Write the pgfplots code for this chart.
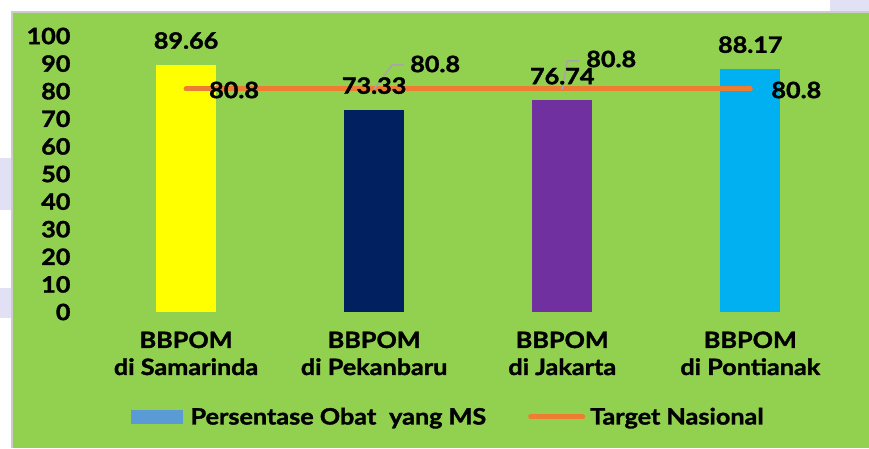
\documentclass[border=0pt]{standalone}
\usepackage{pgfplots}
\pgfplotsset{compat=1.18}
\usepackage{fontspec}
\setmainfont{Lato}[FakeStretch=1.12, BoldFeatures={FakeBold=1.5}]
\definecolor{bg}{HTML}{92D050}
\definecolor{c1}{HTML}{FFFF00}
\definecolor{c2}{HTML}{002060}
\definecolor{c3}{HTML}{7030A0}
\definecolor{c4}{HTML}{00B0F0}
\definecolor{lineor}{HTML}{ED7D31}
\definecolor{legblue}{HTML}{5B9BD5}
\definecolor{leader}{HTML}{A6A6A6}
\definecolor{lav}{HTML}{E2E0F4}
\newcommand{\lab}{\fontsize{22.5}{27}\selectfont\bfseries}
\begin{document}
\begin{tikzpicture}[x=1pt,y=1pt]
\useasboundingbox (0,0) rectangle (869,448);
\fill[white] (0,0) rectangle (869,448);
\fill[lav] (0,290) rectangle (12,238);
\fill[lav] (0,160) rectangle (12,130);
\fill[lav] (830,448) rectangle (869,436);
\fill[bg] (12,0) rectangle (869,436);
\draw[black!20, line width=1.5pt] (12,0) -- (12,436) -- (869,436);
\begin{axis}[
  at={(80pt,136pt)}, anchor=south west,
  scale only axis, width=770pt, height=276pt,
  xmin=-0.564, xmax=3.53, ymin=0, ymax=100,
  axis line style={draw=none},
  major tick length=0pt,
  ytick={0,10,...,100},
  xtick={0,1,2,3},
  xticklabels={{BBPOM\\di Samarinda},{BBPOM\\di Pekanbaru},{BBPOM\\di Jakarta},{BBPOM\\di Pontianak}},
  xticklabel style={align=center, yshift=-16pt},
  yticklabel style={xshift=-6pt},
  tick label style={font=\lab},
  /pgf/number format/assume math mode=true,
  clip=false,
  legend columns=2,
  legend style={draw=none, fill=none, at={(0.478,-0.380)}, anchor=center, font=\lab,
    /tikz/every even column/.append style={column sep=40pt}},
]
\addplot[ybar, bar width=60pt, bar shift=0pt, fill=c1, draw=none, forget plot] coordinates {(0,89.66)};
\addplot[ybar, bar width=60pt, bar shift=0pt, fill=c2, draw=none, forget plot] coordinates {(1,73.33)};
\addplot[ybar, bar width=60pt, bar shift=0pt, fill=c3, draw=none, forget plot] coordinates {(2,76.74)};
\addplot[ybar, bar width=60pt, bar shift=0pt, fill=c4, draw=none, forget plot] coordinates {(3,88.17)};
\addlegendimage{legend image code/.code={\path[draw=none, fill=none] (0pt,0pt) -- (58pt,0pt); \fill[legblue, draw=none] (0pt,-7pt) rectangle (52pt,7pt);}}
\addplot[color=lineor, line width=5pt, line cap=round, mark=none,
  legend image code/.code={\path[draw=none, fill=none] (0pt,0pt) -- (60pt,0pt); \draw[lineor, line width=5pt, line cap=round] (2.5pt,0pt) -- (54.5pt,0pt);}]
  coordinates {(0,80.8) (1,80.8) (2,80.8) (3,80.8)};
\legend{Persentase Obat\hspace{0.3em} yang MS, Target Nasional}
\draw[leader, line width=1.5pt] (axis cs:1,80.8) -- ++(18pt,24pt) -- ++(12pt,0pt);
\draw[leader, line width=1.5pt] (axis cs:2,80.8) -- ++(5pt,28pt) -- ++(12pt,0pt);
\addplot[draw=none, mark=none, forget plot, nodes near coords,
  every node near coord/.append style={anchor=center, yshift=24pt, font=\lab, text=black}]
  coordinates {(0,89.66) (1,73.33) (2,76.74) (3,88.17)};
\node[font=\lab] at (axis cs:0,80.8) [xshift=48pt, yshift=-1pt] {80.8};
\node[font=\lab] at (axis cs:1,80.8) [xshift=61pt, yshift=25pt] {80.8};
\node[font=\lab] at (axis cs:2,80.8) [xshift=49pt, yshift=30pt] {80.8};
\node[font=\lab] at (axis cs:3,80.8) [xshift=46pt, yshift=-1pt] {80.8};
\end{axis}
\end{tikzpicture}
\end{document}
